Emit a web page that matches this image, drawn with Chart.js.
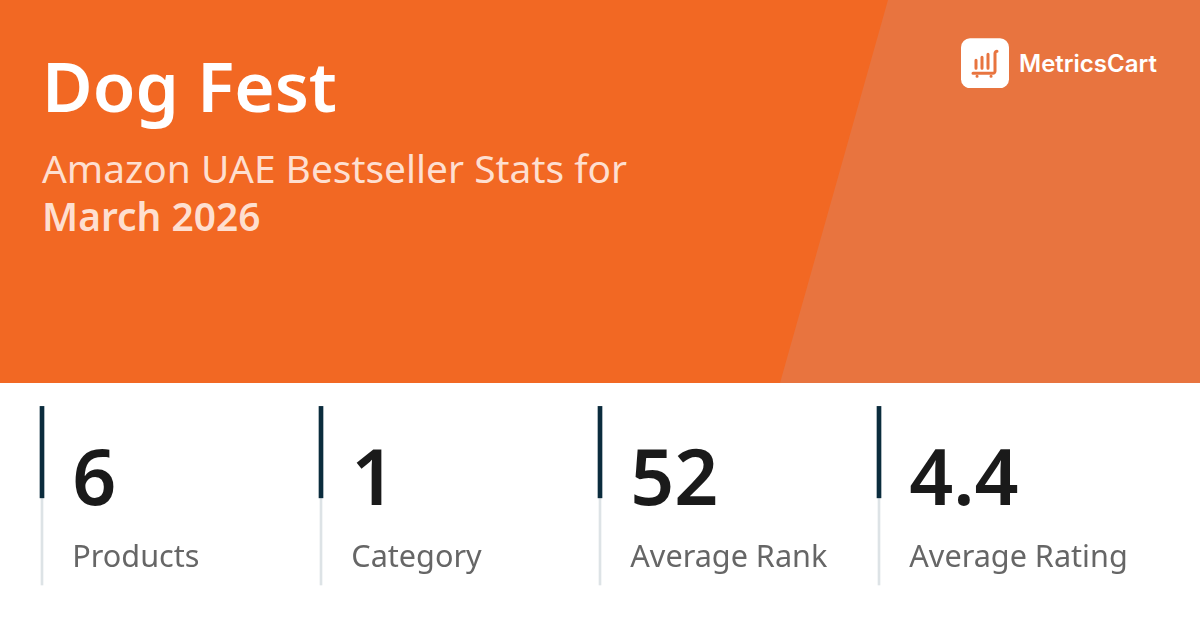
<!DOCTYPE html>
<html>
<head>
<meta charset="utf-8">
<title>Dog Fest</title>
<script src="https://cdn.jsdelivr.net/npm/chart.js@4"></script>
<style>
html, body { margin: 0; padding: 0; width: 1200px; height: 628px; overflow: hidden; background: #fff; font-family: "Noto Sans", sans-serif; }
.banner { position: absolute; left: 0; top: 0; width: 1200px; height: 383px; background: #f26823; overflow: hidden; }
.banner .slant { position: absolute; inset: 0; background: #e8743f; clip-path: polygon(888px 0, 1200px 0, 1200px 383px, 780px 383px); }
h1 { position: absolute; left: 42px; top: 39px; margin: 0; font-size: 69.3px; line-height: 93px; font-weight: 600; color: #fff; }
.sub { position: absolute; left: 42px; top: 144px; font-size: 38.9px; line-height: 47.5px; color: #fedfd0; white-space: nowrap; }
.sub b { font-weight: 600; }
.logo { position: absolute; left: 960.5px; top: 37.5px; width: 48px; height: 50.5px; }
.brand { position: absolute; left: 1019px; top: 47px; font-family: Inter, sans-serif; font-size: 24px; line-height: 34px; font-weight: 600; color: #fff; white-space: nowrap; }
#statsWrap { position: absolute; left: 0; top: 383px; width: 1200px; height: 245px; }
</style>
</head>
<body>
<div class="banner">
    <div class="slant"></div>
    <h1 id="title"></h1>
    <div class="sub"><span id="subtitle"></span><br><b id="period"></b></div>
    <svg class="logo" viewBox="0 0 48 50">
        <rect width="48" height="50" rx="9" fill="#fff"/>
        <g stroke="#e8743f" stroke-width="3" stroke-linecap="round" fill="none">
            <path d="M15 22v8M21 19v11M27 16v14"/>
            <path d="M12 35h20c1 0 2-1 2-2V15c0-1 1-2 2-2"/>
            <path d="M16 38h.1M30 38h.1"/>
        </g>
    </svg>
    <div class="brand" id="brand"></div>
</div>
<div id="statsWrap"><canvas id="statsChart" width="1200" height="245"></canvas></div>

<script>
const titleText = 'Dog Fest';
const subtitleText = 'Amazon UAE Bestseller Stats for';
const periodText = 'March 2026';
const brandText = 'MetricsCart';

const statLabels = ['Products', 'Category', 'Average Rank', 'Average Rating'];
const statValues = ['6', '1', '52', '4.4'];
const statIndex = [0, 1, 2, 3];
const railFull = [1, 1, 1, 1];
const railAccent = [[0.488, 1], [0.488, 1], [0.488, 1], [0.488, 1]];

document.getElementById('title').textContent = titleText;
document.getElementById('subtitle').textContent = subtitleText;
document.getElementById('period').textContent = periodText;
document.getElementById('brand').textContent = brandText;

// Big number and caption next to each rail
const statText = {
    id: 'statText',
    afterDatasetsDraw(chart) {
        const ctx = chart.ctx;
        const xScale = chart.scales.x;
        ctx.save();
        ctx.textAlign = 'left';
        ctx.textBaseline = 'alphabetic';
        statIndex.forEach(function (i) {
            const x = xScale.getPixelForValue(i) + 30.3;
            ctx.font = '600 77px "Noto Sans"';
            ctx.fillStyle = '#1a1a1a';
            ctx.fillText(statValues[i], x, 121.5);
            ctx.font = '400 30.6px "Noto Sans"';
            ctx.fillStyle = '#666666';
            ctx.fillText(statLabels[i], x, 184);
        });
        ctx.restore();
    }
};

new Chart(document.getElementById('statsChart').getContext('2d'), {
    type: 'bar',
    data: {
        datasets: [
            {
                label: 'Accent',
                data: statIndex.map(i => ({ x: i, y: railAccent[i] })),
                backgroundColor: '#0b2c3d',
                barThickness: 4,
                grouped: false,
                clip: false,
                order: 1
            },
            {
                label: 'Rail',
                data: statIndex.map(i => ({ x: i, y: railFull[i] })),
                backgroundColor: '#dde3e6',
                barThickness: 2,
                grouped: false,
                clip: false,
                order: 2
            }
        ]
    },
    options: {
        responsive: false,
        animation: false,
        layout: { padding: { left: 42, right: 42, top: 23.4, bottom: 43 } },
        plugins: { legend: { display: false }, tooltip: { enabled: false } },
        scales: {
            x: { type: 'linear', min: 0, max: 4, offset: false, display: false },
            y: { min: 0, max: 1, display: false }
        }
    },
    plugins: [statText]
});
</script>
</body>
</html>
